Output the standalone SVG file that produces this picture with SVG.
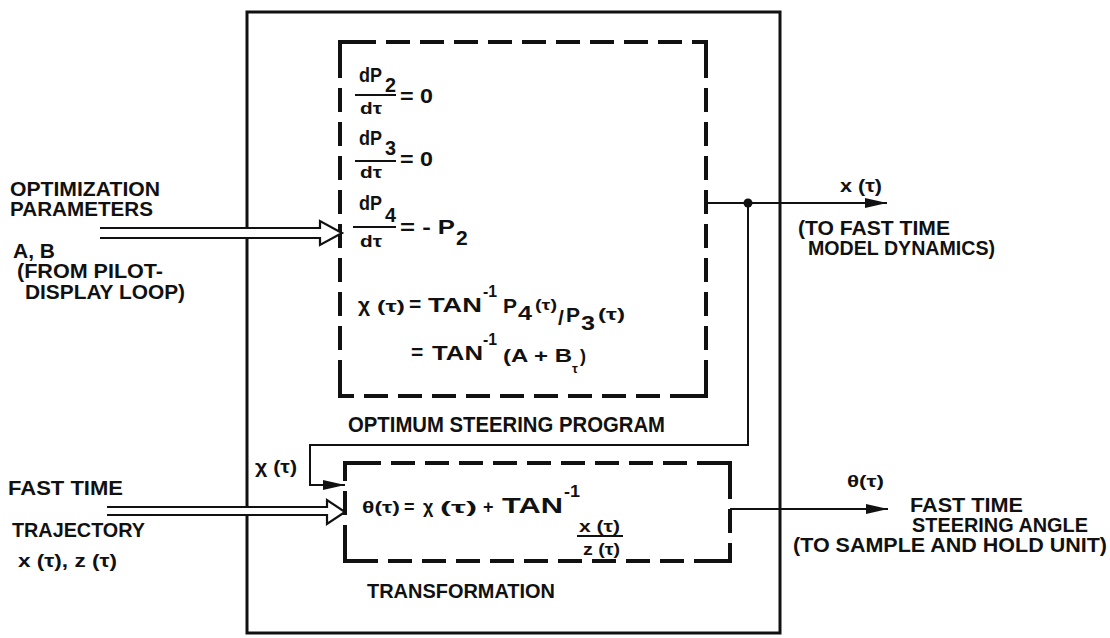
<svg xmlns="http://www.w3.org/2000/svg" width="1110" height="638" viewBox="0 0 1110 638">
<style>
text{font-family:"Liberation Sans",Arial,sans-serif;font-weight:bold;fill:#111}
.lbl{font-size:20px}
.eq{font-size:21px}
.sm{font-size:16px}
.ln{stroke:#111;stroke-width:2;fill:none}
.dash{stroke:#111;stroke-width:4;fill:none;stroke-dasharray:24 10}
.corner{stroke:#111;stroke-width:4;fill:none}
.dbl{stroke:#111;stroke-width:2.2;fill:#fff;stroke-linejoin:miter}
</style>
<defs>
<marker id="ah" markerUnits="userSpaceOnUse" markerWidth="24" markerHeight="12" refX="22" refY="6" orient="auto">
<path d="M0,1 L22,6 L0,11 Z" fill="#111"/>
</marker>
</defs>
<rect width="1110" height="638" fill="#fff"/>

<g id="outer-box">
<rect x="247" y="12" width="533" height="621" fill="none" stroke="#111" stroke-width="3"/>
</g>

<g id="optimum-steering-program">
<path class="dash" d="M352,42 H694 M706,54 V384 M694,396 H352 M340,384 V54"/>
<path class="corner" d="M340,56 V42 H354 M692,42 H706 V56 M706,382 V396 H692 M354,396 H340 V382"/>
<text class="eq" x="359" y="82" textLength="23" lengthAdjust="spacingAndGlyphs">dP</text>
<text class="eq" x="385" y="92" textLength="11" lengthAdjust="spacingAndGlyphs">2</text>
<line class="ln" x1="355" y1="95" x2="396" y2="95"/>
<text class="sm" x="360" y="114" textLength="22" lengthAdjust="spacingAndGlyphs">dτ</text>
<text class="eq" x="400" y="103" textLength="33" lengthAdjust="spacingAndGlyphs">= 0</text>

<text class="eq" x="359" y="145" textLength="23" lengthAdjust="spacingAndGlyphs">dP</text>
<text class="eq" x="385" y="155" textLength="11" lengthAdjust="spacingAndGlyphs">3</text>
<line class="ln" x1="355" y1="161" x2="396" y2="161"/>
<text class="sm" x="360" y="178" textLength="22" lengthAdjust="spacingAndGlyphs">dτ</text>
<text class="eq" x="400" y="166" textLength="33" lengthAdjust="spacingAndGlyphs">= 0</text>

<text class="eq" x="359" y="210" textLength="23" lengthAdjust="spacingAndGlyphs">dP</text>
<text class="eq" x="385" y="222" textLength="11" lengthAdjust="spacingAndGlyphs">4</text>
<line class="ln" x1="353" y1="227" x2="396" y2="227"/>
<text class="sm" x="360" y="247" textLength="22" lengthAdjust="spacingAndGlyphs">dτ</text>
<text class="eq" x="400" y="234" textLength="55" lengthAdjust="spacingAndGlyphs">= - P</text>
<text class="eq" x="456" y="245">2</text>

<text class="eq" x="358" y="312" font-size="20">χ</text>
<text class="sm" x="377" y="312" textLength="28" lengthAdjust="spacingAndGlyphs">(τ)</text>
<text class="eq" x="409" y="311">=</text>
<text class="eq" x="428" y="312" textLength="54" lengthAdjust="spacingAndGlyphs">TAN</text>
<text x="483" y="297" font-size="17" textLength="14" lengthAdjust="spacingAndGlyphs">-1</text>
<text class="eq" x="503" y="313">P</text>
<text class="eq" x="518" y="320" textLength="14" lengthAdjust="spacingAndGlyphs">4</text>
<text x="535" y="310" font-size="14" textLength="22" lengthAdjust="spacingAndGlyphs">(τ)</text>
<text class="eq" x="558" y="325">/</text>
<text class="eq" x="566" y="322">P</text>
<text class="eq" x="581" y="330" textLength="14" lengthAdjust="spacingAndGlyphs">3</text>
<text class="sm" x="598" y="320" textLength="27" lengthAdjust="spacingAndGlyphs">(τ)</text>

<text class="eq" x="411" y="359">=</text>
<text class="eq" x="432" y="360" textLength="51" lengthAdjust="spacingAndGlyphs">TAN</text>
<text x="483" y="345" font-size="17" textLength="14" lengthAdjust="spacingAndGlyphs">-1</text>
<text x="503" y="362" font-size="18" textLength="69" lengthAdjust="spacingAndGlyphs">(A + B</text>
<text x="572" y="373" font-size="13">τ</text>
<text x="580" y="362" font-size="18">)</text>

<text x="348" y="432" font-size="22" textLength="317" lengthAdjust="spacingAndGlyphs">OPTIMUM STEERING PROGRAM</text>
</g>

<g id="transformation">
<path class="dash" d="M357,463 H718 M730,475 V549 M718,561 H357 M345,549 V475"/>
<path class="corner" d="M345,477 V463 H359 M716,463 H730 V477 M730,547 V561 H716 M359,561 H345 V547"/>
<text x="362" y="513" font-size="17" textLength="38" lengthAdjust="spacingAndGlyphs">θ(τ)</text>
<text x="404" y="513" font-size="18">=</text>
<text x="423" y="513" font-size="18">χ</text>
<text x="440" y="513" font-size="17" textLength="37" lengthAdjust="spacingAndGlyphs">(τ)</text>
<text x="483" y="513" font-size="18">+</text>
<text x="502" y="513" font-size="22" textLength="61" lengthAdjust="spacingAndGlyphs">TAN</text>
<text x="564" y="497" font-size="17" textLength="16" lengthAdjust="spacingAndGlyphs">-1</text>
<text x="579" y="532" font-size="16" textLength="41" lengthAdjust="spacingAndGlyphs">x (τ)</text>
<line class="ln" x1="577" y1="536" x2="623" y2="536"/>
<text x="583" y="555" font-size="16" textLength="37" lengthAdjust="spacingAndGlyphs">z (τ)</text>
<text x="367" y="598" font-size="21" textLength="188" lengthAdjust="spacingAndGlyphs">TRANSFORMATION</text>
</g>

<g id="connectors">
<path class="dbl" d="M100,228 H320 V221 L342,233 L320,245 V238 H100"/>
<path class="dbl" d="M107,507 H327 V500 L345,512 L327,524 V515 H107"/>
<line class="ln" x1="706" y1="203" x2="887" y2="203" marker-end="url(#ah)"/>
<circle cx="748" cy="203" r="4.5" fill="#111"/>
<path class="ln" d="M748,203 V445 H310 V485 H345" marker-end="url(#ah)"/>
<line class="ln" x1="730" y1="509" x2="888" y2="509" marker-end="url(#ah)"/>
</g>

<g id="input-optimization-parameters">
<text class="lbl" x="10" y="196" textLength="150" lengthAdjust="spacingAndGlyphs">OPTIMIZATION</text>
<text class="lbl" x="10" y="216" textLength="143" lengthAdjust="spacingAndGlyphs">PARAMETERS</text>
<text class="lbl" x="13" y="258" textLength="42" lengthAdjust="spacingAndGlyphs">A, B</text>
<text class="lbl" x="17" y="278" textLength="146" lengthAdjust="spacingAndGlyphs">(FROM PILOT-</text>
<text class="lbl" x="25" y="299" textLength="160" lengthAdjust="spacingAndGlyphs">DISPLAY LOOP)</text>
</g>

<g id="input-fast-time-trajectory">
<text class="lbl" x="8" y="495" font-size="21" textLength="115" lengthAdjust="spacingAndGlyphs">FAST TIME</text>
<text class="lbl" x="12" y="537" font-size="21" textLength="133" lengthAdjust="spacingAndGlyphs">TRAJECTORY</text>
<text x="18" y="567" font-size="18" textLength="99" lengthAdjust="spacingAndGlyphs">x (τ), z (τ)</text>
</g>

<g id="feedback-label">
<text x="255" y="473" font-size="18" textLength="42" lengthAdjust="spacingAndGlyphs">χ (τ)</text>
</g>

<g id="output-model-dynamics">
<text x="840" y="192" font-size="18" textLength="42" lengthAdjust="spacingAndGlyphs">x (τ)</text>
<text class="lbl" x="798" y="235" textLength="152" lengthAdjust="spacingAndGlyphs">(TO FAST TIME</text>
<text class="lbl" x="808" y="255" textLength="187" lengthAdjust="spacingAndGlyphs">MODEL DYNAMICS)</text>
</g>

<g id="output-steering-angle">
<text x="847" y="487" font-size="17" textLength="37" lengthAdjust="spacingAndGlyphs">θ(τ)</text>
<text class="lbl" x="910" y="512" font-size="21" textLength="113" lengthAdjust="spacingAndGlyphs">FAST TIME</text>
<text class="lbl" x="912" y="532" font-size="21" textLength="176" lengthAdjust="spacingAndGlyphs">STEERING ANGLE</text>
<text class="lbl" x="793" y="552" font-size="21" textLength="314" lengthAdjust="spacingAndGlyphs">(TO SAMPLE AND HOLD UNIT)</text>
</g>
</svg>
